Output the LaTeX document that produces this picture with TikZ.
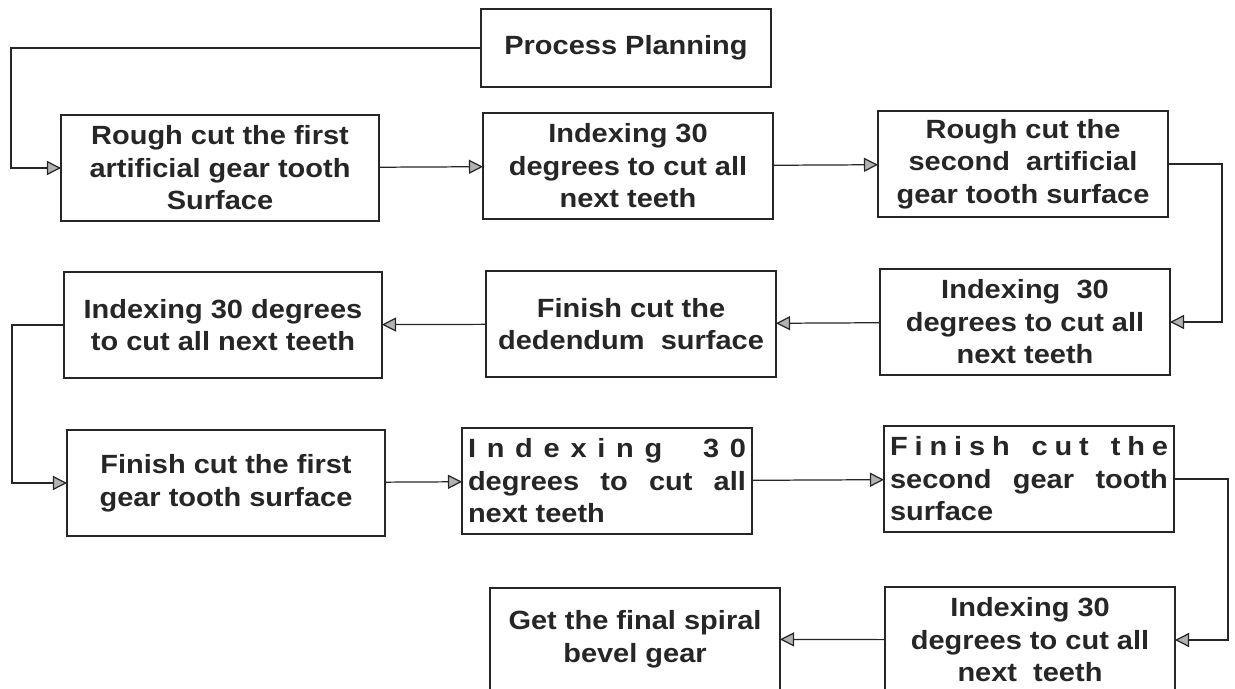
\documentclass[tikz,border=0pt]{standalone}
\usepackage{fontspec}
\setmainfont[FakeStretch=1.1]{Liberation Sans}
\usetikzlibrary{arrows.meta}

\begin{document}
\begin{tikzpicture}[x=0.02cm,y=-0.02cm,
  every node/.style={font=\fontsize{15}{18.5}\selectfont\bfseries,text=black!85},
  stage/.style={draw=black!85,line width=0.9pt,align=center,inner sep=2pt,outer sep=0pt,minimum height=2.12cm},
  wide/.style={minimum width=6.36cm},
  narrow/.style={minimum width=5.8cm},
  flow/.style={draw=black!85,line width=0.7pt,-{Triangle[length=8pt,width=8pt,fill=gray!60]}}]
 \useasboundingbox (0,0) rectangle (1235,689);
 \node[stage,narrow,minimum height=1.56cm] (plan) at (626,48) {Process Planning};
 \node[stage,wide] (rough1) at (220,168) {Rough cut the first\\artificial gear tooth\\Surface};
 \node[stage,narrow] (idx1) at (628,166) {Indexing 30\\degrees to cut all\\next teeth};
 \node[stage,narrow] (rough2) at (1023,164) {Rough cut the\\second\ \ artificial\\gear tooth surface};
 \node[stage,narrow] (idx2) at (1025,322) {Indexing\ \ 30\\degrees to cut all\\next teeth};
 \node[stage,narrow] (dedend) at (631,324) {Finish cut the\\dedendum\ \ surface};
 \node[stage,wide] (idx3) at (223,325) {Indexing 30 degrees\\to cut all next teeth};
 \node[stage,wide] (finish1) at (226,483) {Finish cut the first\\gear tooth surface};
 \node[stage,narrow,align=left] (idx4) at (607,481) {\makebox[5.56cm][s]{I n d e x i n g\hspace{0.6cm} 3 0}\\\makebox[5.56cm][s]{degrees to cut all}\\next teeth};
 \node[stage,narrow,align=left] (finish2) at (1029,479) {\makebox[5.56cm][s]{F i n i s h\hspace{0.3cm} c u t\hspace{0.3cm} t h e}\\\makebox[5.56cm][s]{second gear tooth}\\surface};
 \node[stage,narrow] (idx5) at (1030,640) {Indexing 30\\degrees to cut all\\next\ \ teeth};
 \node[stage,narrow,minimum height=2.04cm] (final) at (635,639) {Get the final spiral\\bevel gear};

 \draw[flow] (plan.west) -- ++(-470,0) |- (rough1.west);
 \draw[flow] (rough1) -- (idx1);
 \draw[flow] (idx1) -- (rough2);
 \draw[flow] (rough2.east) -- ++(54,0) |- (idx2.east);
 \draw[flow] (idx2) -- (dedend);
 \draw[flow] (dedend) -- (idx3);
 \draw[flow] (idx3.west) -- ++(-52,0) |- (finish1.west);
 \draw[flow] (finish1) -- (idx4);
 \draw[flow] (idx4) -- (finish2);
 \draw[flow] (finish2.east) -- ++(54,0) |- (idx5.east);
 \draw[flow] (idx5) -- (final);
\end{tikzpicture}
\end{document}
